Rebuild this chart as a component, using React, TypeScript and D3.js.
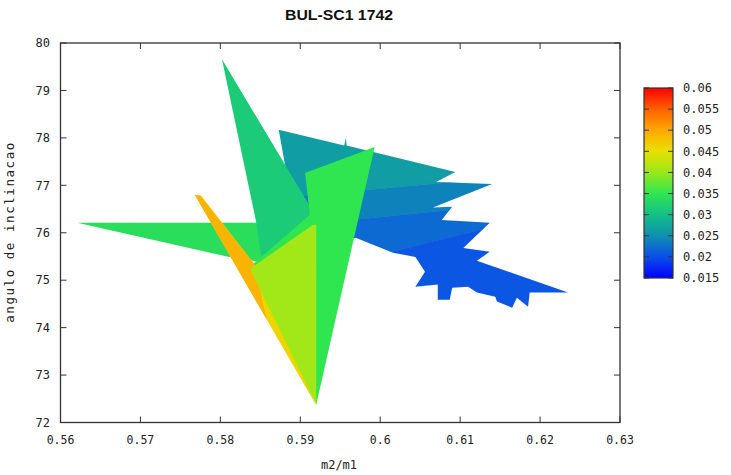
import React from 'react';
import * as d3 from 'd3';

// Axis ticks
const xTicks = [0.56, 0.57, 0.58, 0.59, 0.6, 0.61, 0.62, 0.63];
const yTicks = [72, 73, 74, 75, 76, 77, 78, 79, 80];
const cbTicks = [0.015, 0.02, 0.025, 0.03, 0.035, 0.04, 0.045, 0.05, 0.055, 0.06];

// Colormap (jet-like, as in the colour box)
const cmapValues = [0.015, 0.02, 0.025, 0.03, 0.035, 0.04, 0.045, 0.05, 0.055, 0.06];
const cmapColors = ['#0000ff', '#0a50e8', '#0f90b0', '#12c088', '#30e650', '#9ae81a', '#e8e000', '#ffa800', '#ff6000', '#ff0000'];

// Right cluster outline (m2/m1, angle)
const clusterOutline: [number, number][] = [
    [0.5873, 78.17], [0.5955, 77.84], [0.5957, 78.0], [0.5958, 77.84], [0.6094, 77.28], [0.607, 77.07],
    [0.614, 77.03], [0.6066, 76.53], [0.609, 76.55], [0.6077, 76.27], [0.6137, 76.21], [0.6104, 75.68],
    [0.6137, 75.6], [0.6121, 75.41], [0.6235, 74.74], [0.6187, 74.74], [0.6185, 74.44], [0.6171, 74.63],
    [0.6165, 74.42], [0.6146, 74.55], [0.6144, 74.65], [0.6121, 74.74], [0.611, 74.86], [0.609, 74.84],
    [0.6087, 74.59], [0.6072, 74.59], [0.6072, 74.91], [0.6044, 74.86], [0.6056, 75.18], [0.6044, 75.49],
    [0.6016, 75.58], [0.597, 75.89], [0.59, 75.85], [0.5882, 77.33]
];
// Band boundaries inside the cluster: angle at m2/m1 = 0.585 and 0.625
const bandEdgeX = [0.585, 0.625];
const bandEdges: [number, number][] = [[80, 80], [76.7, 77.31], [76.07, 76.76], [74.91, 76.59], [72, 72]];
const bandValues = [0.0265, 0.024, 0.022, 0.0205];

// Patches (m2/m1, angle)
const leftSpike: [number, number][] = [[0.5621, 76.21], [0.5906, 76.21], [0.5847, 75.39], [0.5808, 75.5]];
const tallSpike: [number, number][] = [[0.5802, 79.66], [0.5937, 75.85], [0.5852, 75.39], [0.5845, 76.21]];
const greenPatch: [number, number][] = [[0.5906, 77.26], [0.5993, 77.81], [0.592, 72.38], [0.5839, 75.31], [0.5912, 76.38]];
const yellowStrip: [number, number][] = [[0.5768, 76.8], [0.5776, 76.78], [0.5842, 75.35], [0.592, 72.36]];
const orangeTop: [number, number][] = [[0.5768, 76.8], [0.5775, 76.78], [0.5842, 75.35], [0.5858, 74.17]];
const yellowGreen: [number, number][] = [[0.5916, 76.17], [0.592, 76.17], [0.592, 72.38], [0.5837, 75.24]];
const patches = [leftSpike, tallSpike, greenPatch, yellowStrip, orangeTop, yellowGreen];
const patchValues = [0.034, 0.0315, 0.035, 0.046, 0.049, 0.0405];

const W = 731;
const H = 475;
const mono = '"DejaVu Sans Mono", monospace';

export default function App() {
    const x = d3.scaleLinear().domain([0.56, 0.63]).range([60.5, 620]);
    const y = d3.scaleLinear().domain([72, 80]).range([422.5, 43]);
    const color = d3.scaleLinear<string>().domain(cmapValues).range(cmapColors).clamp(true);
    const cb = d3.scaleLinear().domain([0.015, 0.06]).range([278, 88]);
    const line = d3
        .line<[number, number]>()
        .x((d) => x(d[0]))
        .y((d) => y(d[1]))
        .curve(d3.curveLinearClosed);

    const bands = bandValues.map((v, i) => {
        const top = bandEdges[i];
        const bot = bandEdges[i + 1];
        const pts: [number, number][] = [
            [bandEdgeX[0], top[0]], [bandEdgeX[1], top[1]], [bandEdgeX[1], bot[1]], [bandEdgeX[0], bot[0]]
        ];
        return { v, pts };
    });

    const x0 = x(0.56), x1 = x(0.63), y0 = y(72), y1 = y(80);
    const cbX0 = 644, cbX1 = 673;

    return (
        <svg width={W} height={H} style={{ position: 'absolute', left: 0, top: 0, background: 'white' }}>
            <defs>
                <clipPath id="cluster">
                    <path d={line(clusterOutline)!} />
                </clipPath>
                <linearGradient id="cbar" x1="0" y1="1" x2="0" y2="0">
                    {cmapValues.map((v, i) => (
                        <stop key={i} offset={(v - 0.015) / 0.045} stopColor={cmapColors[i]} />
                    ))}
                </linearGradient>
            </defs>

            {/* title */}
            <text x={339} y={20} textAnchor="middle" fontFamily='"Liberation Sans Narrow", "Liberation Sans", Arial, sans-serif'
                fontWeight="bold" fontSize={15} textLength={108} lengthAdjust="spacingAndGlyphs" fill="#111">
                BUL-SC1 1742
            </text>

            {/* filled patches */}
            <g clipPath="url(#cluster)">
                {bands.map((b, i) => (
                    <path key={i} d={line(b.pts)!} fill={color(b.v)} stroke={color(b.v)} strokeWidth={0.5} />
                ))}
            </g>
            {patches.map((p, i) => (
                <path key={i} d={line(p)!} fill={color(patchValues[i])} />
            ))}

            {/* frame */}
            <rect x={x0} y={y1} width={x1 - x0} height={y0 - y1} fill="none" stroke="#333" strokeWidth={1.3} />
            {xTicks.map((t) => (
                <g key={t}>
                    <line x1={x(t)} x2={x(t)} y1={y0} y2={y0 - 6} stroke="#333" />
                    <line x1={x(t)} x2={x(t)} y1={y1} y2={y1 + 6} stroke="#333" />
                    <text x={x(t)} y={444} textAnchor="middle" fontFamily={mono} fontSize={11.5} fill="#222">
                        {String(t)}
                    </text>
                </g>
            ))}
            {yTicks.map((t) => (
                <g key={t}>
                    <line x1={x0} x2={x0 + 6} y1={y(t)} y2={y(t)} stroke="#333" />
                    <line x1={x1} x2={x1 - 6} y1={y(t)} y2={y(t)} stroke="#333" />
                    <text x={50} y={y(t)} dy="0.35em" textAnchor="end" fontFamily={mono} fontSize={12} fill="#222">
                        {String(t)}
                    </text>
                </g>
            ))}

            {/* axis titles */}
            <text x={339} y={469} textAnchor="middle" fontFamily={mono} fontSize={12} fill="#222">m2/m1</text>
            <text transform={`translate(14,${(y0 + y1) / 2}) rotate(-90)`} textAnchor="middle" fontFamily={mono}
                fontSize={12.5} textLength={180} lengthAdjust="spacing" fill="#222">
                angulo de inclinacao
            </text>

            {/* colour box */}
            <rect x={cbX0} y={cb(0.06)} width={cbX1 - cbX0} height={cb(0.015) - cb(0.06)} fill="url(#cbar)" stroke="#333" strokeWidth={1.2} />
            {cbTicks.map((t) => (
                <g key={t}>
                    <line x1={cbX0} x2={cbX0 + 5} y1={cb(t)} y2={cb(t)} stroke="#333" />
                    <line x1={cbX1} x2={cbX1 - 5} y1={cb(t)} y2={cb(t)} stroke="#333" />
                    <text x={683} y={cb(t)} dy="0.35em" fontFamily={mono} fontSize={12} fill="#222">
                        {String(t)}
                    </text>
                </g>
            ))}
        </svg>
    );
}
